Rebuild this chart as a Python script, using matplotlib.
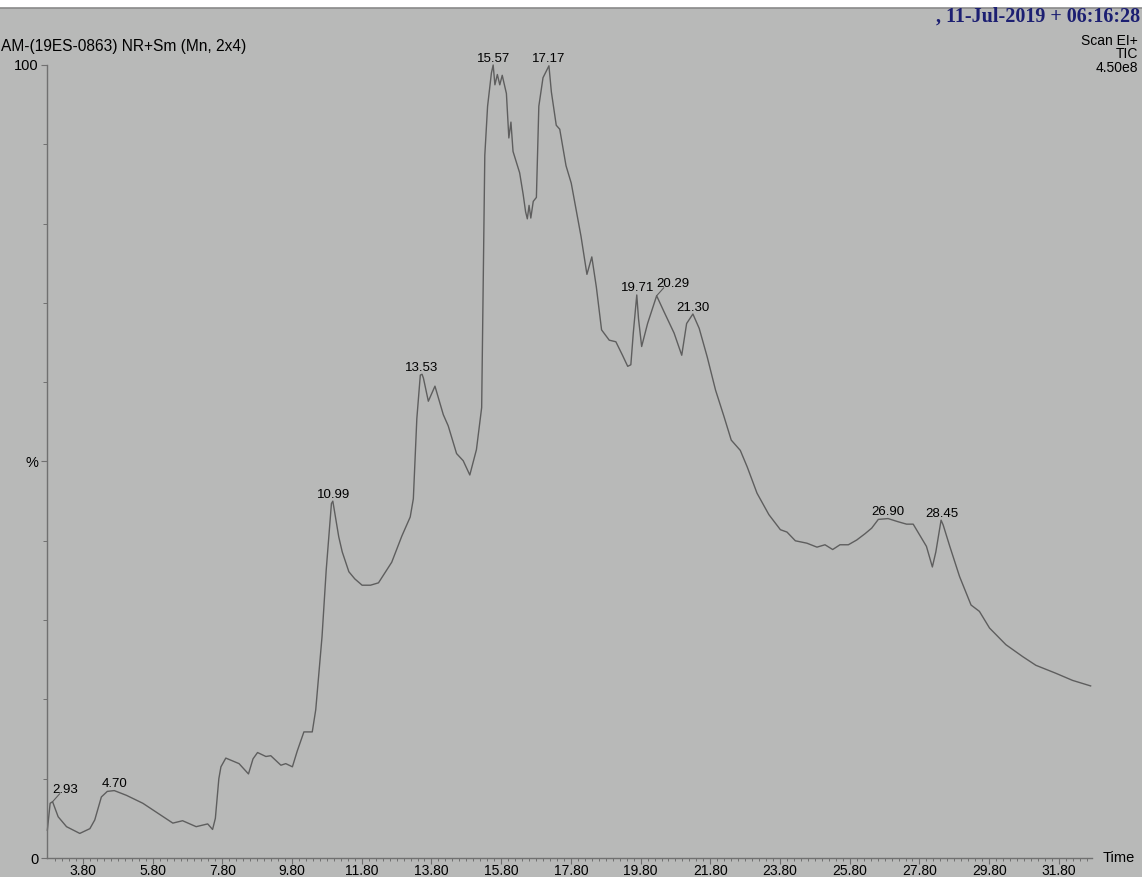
import numpy as np
import matplotlib
matplotlib.use("Agg")
import matplotlib.pyplot as plt
from matplotlib.patches import Rectangle
from matplotlib.lines import Line2D

plt.rcParams['font.family'] = ['Liberation Sans', 'DejaVu Sans']

# ---- data (retention time in min, relative intensity %) ----
times = [2.78, 2.86, 2.93, 3.09, 3.33, 3.71, 4.00, 4.14, 4.33, 4.50, 4.70, 5.05, 5.52, 5.90,
         6.38, 6.66, 7.05, 7.38, 7.52, 7.60, 7.70, 7.76, 7.90, 8.28, 8.55, 8.68, 8.81, 9.05,
         9.19, 9.48, 9.62, 9.81, 9.95, 10.14, 10.38, 10.48, 10.66, 10.78, 10.93, 10.97, 11.14,
         11.24, 11.43, 11.60, 11.81, 12.05, 12.28, 12.66, 12.95, 13.19, 13.28, 13.38, 13.48,
         13.53, 13.57, 13.71, 13.90, 14.14, 14.28, 14.52, 14.71, 14.90, 15.09, 15.24, 15.28,
         15.33, 15.41, 15.52, 15.57, 15.62, 15.69, 15.76, 15.83, 15.95, 16.02, 16.08, 16.14,
         16.33, 16.43, 16.50, 16.55, 16.60, 16.65, 16.72, 16.81, 16.88, 17.00, 17.17, 17.24,
         17.38, 17.48, 17.66, 17.81, 18.09, 18.26, 18.40, 18.53, 18.68, 18.90, 19.09, 19.28,
         19.43, 19.52, 19.59, 19.69, 19.74, 19.83, 20.00, 20.26, 20.47, 20.76, 20.98, 21.12,
         21.30, 21.48, 21.71, 21.95, 22.19, 22.40, 22.66, 22.86, 23.14, 23.48, 23.81, 24.00,
         24.24, 24.57, 24.86, 25.09, 25.31, 25.52, 25.76, 26.00, 26.24, 26.43, 26.62, 26.90,
         27.19, 27.43, 27.62, 27.81, 28.00, 28.17, 28.27, 28.42, 28.48, 28.67, 28.95, 29.28,
         29.52, 29.81, 30.28, 30.76, 31.14, 31.71, 32.19, 32.71]
intensity = [3.5, 6.9, 7.1, 5.2, 3.95, 3.1, 3.7, 4.8, 7.7, 8.4, 8.5, 7.9, 6.9, 5.8,
             4.4, 4.7, 3.95, 4.3, 3.6, 5.0, 10.0, 11.5, 12.6, 11.9, 10.6, 12.5, 13.3, 12.8,
             12.9, 11.7, 11.9, 11.5, 13.5, 15.9, 15.9, 18.7, 27.9, 36.3, 44.7, 45.0, 40.5,
             38.6, 36.1, 35.2, 34.4, 34.4, 34.7, 37.3, 40.6, 43.0, 45.3, 55.4, 60.9,
             61.0, 60.5, 57.6, 59.5, 55.9, 54.5, 51.0, 50.1, 48.3, 51.5, 56.8, 70.9,
             88.6, 94.8, 99.0, 100.0, 97.5, 98.8, 97.5, 98.7, 96.4, 90.8, 92.8, 89.1,
             86.4, 83.7, 81.5, 80.6, 82.3, 80.7, 82.8, 83.3, 94.8, 98.4, 99.9, 96.6,
             92.4, 91.9, 87.3, 85.1, 78.4, 73.6, 75.8, 72.0, 66.6, 65.3, 65.1, 63.4,
             62.0, 62.2, 66.2, 71.0, 68.0, 64.5, 67.4, 70.9, 68.9, 66.2, 63.4, 67.4,
             68.6, 66.8, 63.2, 59.0, 55.7, 52.7, 51.4, 49.3, 46.0, 43.3, 41.4, 41.1,
             40.0, 39.7, 39.2, 39.5, 38.9, 39.5, 39.5, 40.1, 40.9, 41.6, 42.7, 42.8,
             42.4, 42.1, 42.1, 40.7, 39.3, 36.7, 38.6, 42.6, 42.0, 39.3, 35.5, 31.9,
             31.1, 29.0, 26.9, 25.4, 24.3, 23.3, 22.4, 21.7]

peak_times = [2.93, 4.70, 10.99, 13.53, 15.57, 17.17, 19.71, 20.29, 21.30, 26.90, 28.45]
peak_labels = ["2.93", "4.70", "10.99", "13.53", "15.57", "17.17", "19.71", "20.29",
               "21.30", "26.90", "28.45"]
leader_peaks = ["2.93", "20.29"]

x_ticks = [3.80, 5.80, 7.80, 9.80, 11.80, 13.80, 15.80, 17.80, 19.80, 21.80, 23.80,
           25.80, 27.80, 29.80, 31.80]
y_ticks = [0, 50, 100]
y_tick_labels = ["0", "%", "100"]

title_left = "AM-(19ES-0863) NR+Sm (Mn, 2x4)"
date_text = ", 11-Jul-2019 + 06:16:28"
right_info = ["Scan EI+", "TIC", "4.50e8"]

# ---- figure ----
W, H = 1142, 877
fig = plt.figure(figsize=(W / 100, H / 100), dpi=100)
fig.patch.set_facecolor('white')
top_gray = 1 - 8 / H
fig.add_artist(Rectangle((0, 0), 1, top_gray, transform=fig.transFigure,
                         facecolor='#b8b9b8', edgecolor='none', zorder=-10))
fig.add_artist(Line2D([0, 1], [top_gray, top_gray], transform=fig.transFigure,
                      color='#8a8a8a', lw=1.2, zorder=-9))

ax = fig.add_axes([47 / W, 19 / H, (1092 - 47) / W, (858 - 65) / H])
ax.set_facecolor('none')
ax.plot(times, intensity, color='#5e5e5e', lw=1.0, clip_on=False)
ax.set_xlim(2.77, 32.75)
ax.set_ylim(0, 100)

for s in ['top', 'right']:
    ax.spines[s].set_visible(False)
for s in ['left', 'bottom']:
    ax.spines[s].set_color('#707070')
    ax.spines[s].set_linewidth(1.0)

ax.set_xticks(x_ticks)
ax.set_xticklabels([f"{t:.2f}" for t in x_ticks])
ax.set_xticks(np.arange(3.0, 32.75, 0.2), minor=True)
ax.set_yticks(y_ticks)
ax.set_yticklabels(y_tick_labels)
ax.set_yticks(np.arange(10, 100, 10), minor=True)
ax.tick_params(axis='x', which='major', length=4.5, width=0.8, color='#707070',
               labelsize=10, pad=0)
ax.tick_params(axis='x', which='minor', length=2.5, width=0.7, color='#707070')
ax.tick_params(axis='y', which='major', length=4, width=0.8, color='#707070',
               labelsize=10.5, pad=2)
ax.tick_params(axis='y', which='minor', length=3, width=0.7, color='#707070')

# peak labels
t_arr = np.array(times)
v_arr = np.array(intensity)
for pt, lab in zip(peak_times, peak_labels):
    m = np.where((t_arr >= pt - 0.1) & (t_arr <= pt + 0.1))[0]
    k = m[np.argmax(v_arr[m])]
    pk = (t_arr[k], v_arr[k])
    if lab in leader_peaks:
        ax.annotate(lab, xy=pk, xytext=(0, 6.5), textcoords='offset points',
                    ha='left', va='baseline', fontsize=9.5)
        ax.annotate('', xy=pk, xytext=(5.2, 5.8), textcoords='offset points',
                    arrowprops=dict(arrowstyle='-', color='#5e5e5e', lw=0.8,
                                    shrinkA=0, shrinkB=0))
    else:
        ax.annotate(lab, xy=(pt, pk[1]), xytext=(0, 2.5), textcoords='offset points',
                    ha='center', va='baseline', fontsize=9.5)

# header texts
fig.text(1 / W, 1 - 47 / H, title_left, ha='left', va='center', fontsize=11.2)
fig.text(1140 / W, 1 - 17 / H, date_text, ha='right', va='center', fontsize=14.5,
         family=['Liberation Serif', 'DejaVu Serif'], fontweight='bold', color='#1c1f72')
for i, s in enumerate(right_info):
    fig.text(1138 / W, 1 - (41 + 13.5 * i) / H, s, ha='right', va='center', fontsize=10)
fig.text(1103 / W, 1 - 858 / H, "Time", ha='left', va='center', fontsize=10.5)

fig.savefig("out.png", dpi=100, facecolor=fig.get_facecolor())
